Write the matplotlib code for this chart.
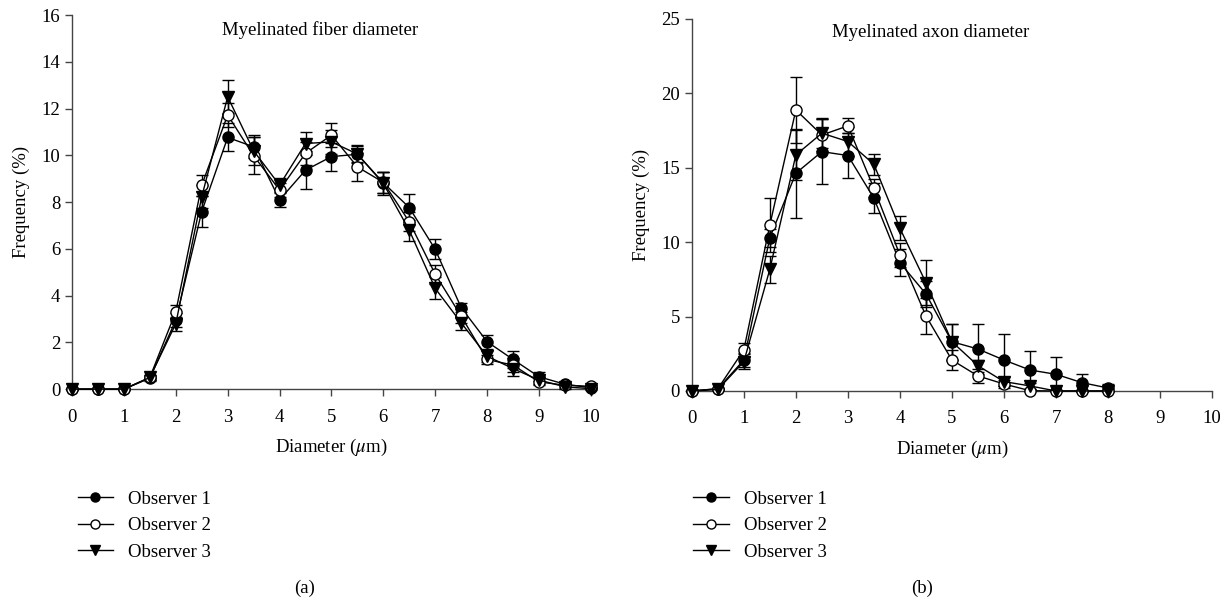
import matplotlib
matplotlib.use("Agg")
import matplotlib.pyplot as plt
from matplotlib.lines import Line2D

plt.rcParams["font.family"] = ["Liberation Serif", "DejaVu Serif"]
plt.rcParams["mathtext.fontset"] = "stix"

# panel (a): myelinated fiber diameter
fiber_x = [0, 0.5, 1, 1.5, 2, 2.5, 3, 3.5, 4, 4.5, 5, 5.5, 6, 6.5, 7, 7.5, 8, 8.5, 9, 9.5, 10]
fiber_obs1 = [0, 0, 0, 0.47, 2.95, 7.6, 10.77, 10.37, 8.1, 9.37, 9.95, 10.05, 8.83, 7.77, 5.98, 3.49, 2.03, 1.27, 0.53, 0.21, 0.06]
fiber_obs2 = [0, 0, 0, 0.5, 3.31, 8.73, 11.73, 9.99, 8.52, 10.09, 10.87, 9.51, 8.85, 7.16, 4.92, 3.12, 1.27, 1.03, 0.31, 0.17, 0.12]
fiber_obs3 = [0, 0, 0, 0.5, 2.8, 8.23, 12.51, 10.2, 8.73, 10.51, 10.58, 10.06, 8.8, 6.8, 4.31, 2.84, 1.41, 0.88, 0.39, 0.1, 0.02]
fiber_err1 = [0, 0, 0, 0.1, 0.3, 0.65, 0.6, 0.5, 0.3, 0.8, 0.6, 0.35, 0.45, 0.6, 0.43, 0.2, 0.3, 0.36, 0.2, 0.1, 0.05]
fiber_err2 = [0, 0, 0, 0.1, 0.3, 0.45, 0.5, 0.8, 0.3, 0.5, 0.5, 0.6, 0.45, 0.4, 0.4, 0.3, 0.2, 0.3, 0.15, 0.1, 0.05]
fiber_err3 = [0, 0, 0, 0.1, 0.3, 0.5, 0.7, 0.6, 0.3, 0.5, 0.5, 0.4, 0.5, 0.45, 0.47, 0.3, 0.25, 0.3, 0.15, 0.1, 0.05]

# panel (b): myelinated axon diameter
axon_x = [0, 0.5, 1, 1.5, 2, 2.5, 3, 3.5, 4, 4.5, 5, 5.5, 6, 6.5, 7, 7.5, 8]
axon_obs1 = [0, 0.15, 2.08, 10.3, 14.63, 16.08, 15.82, 12.95, 8.62, 6.52, 3.31, 2.82, 2.08, 1.41, 1.12, 0.56, 0.2]
axon_obs2 = [0, 0.15, 2.76, 11.16, 18.88, 17.2, 17.81, 13.62, 9.14, 5.04, 2.08, 1.01, 0.47, 0.02, 0, 0, 0]
axon_obs3 = [0, 0.1, 1.97, 8.18, 15.86, 17.32, 16.76, 15.23, 10.93, 7.28, 3.31, 1.7, 0.63, 0.34, 0, 0, 0]
axon_err1 = [0, 0, 0.5, 0.6, 3.0, 2.2, 1.5, 1.0, 0.9, 0.9, 1.2, 1.7, 1.75, 1.25, 1.15, 0.6, 0.3]
axon_err2 = [0, 0, 0.45, 1.8, 2.2, 1.1, 0.5, 0.6, 0.8, 1.2, 0.7, 0.5, 0.3, 0, 0, 0, 0]
axon_err3 = [0, 0, 0.5, 0.9, 1.7, 1.0, 1.0, 0.7, 0.8, 1.5, 1.2, 0.4, 0.3, 0.2, 0, 0, 0]

labels = ["Observer 1", "Observer 2", "Observer 3"]
styles = [
    dict(marker="o", mfc="black"),
    dict(marker="o", mfc="white"),
    dict(marker="v", mfc="black"),
]
axis_color = "#444444"
fs = 13.5


def draw_panel(ax, x, series, errs, title, title_x, ymax, ystep):
    for y, e, st in zip(series, errs, styles):
        ax.errorbar(x, y, yerr=e, color="black", lw=1.0, marker=st["marker"],
                    mfc=st["mfc"], mec="black", ms=8, capsize=4.5,
                    elinewidth=1.0, capthick=1.0, clip_on=False, zorder=3)
    ax.set_xlim(0, 10)
    ax.set_ylim(0, ymax)
    ax.set_xticks(range(0, 11))
    ax.set_yticks(range(0, ymax + 1, ystep))
    for s in ["top", "right"]:
        ax.spines[s].set_visible(False)
    for s in ["left", "bottom"]:
        ax.spines[s].set_color(axis_color)
        ax.spines[s].set_linewidth(1.0)
    ax.tick_params(axis="both", direction="out", length=5, width=1.0,
                   color=axis_color, labelsize=fs)
    ax.tick_params(axis="x", pad=9)
    ax.set_xlabel(r"Diameter ($\mu$m)", fontsize=fs, labelpad=8)
    ax.set_ylabel("Frequency (%)", fontsize=fs, labelpad=8)
    ax.text(title_x, 0.985, title, transform=ax.transAxes, ha="center",
            va="top", fontsize=fs)


fig = plt.figure(figsize=(12.31, 6.09), dpi=100)
ax1 = fig.add_axes([0.0585, 0.361, 0.4215, 0.614])
ax2 = fig.add_axes([0.562, 0.358, 0.4226, 0.611])

draw_panel(ax1, fiber_x, [fiber_obs1, fiber_obs2, fiber_obs3],
           [fiber_err1, fiber_err2, fiber_err3],
           "Myelinated fiber diameter", 0.478, 16, 2)
draw_panel(ax2, axon_x, [axon_obs1, axon_obs2, axon_obs3],
           [axon_err1, axon_err2, axon_err3],
           "Myelinated axon diameter", 0.46, 25, 5)

handles = [Line2D([0], [0], color="black", lw=1.0, marker=st["marker"],
                  mfc=st["mfc"], mec="black", ms=6.5) for st in styles]
for xpos in [0.063, 0.563]:
    fig.legend(handles, labels, loc="upper left", bbox_to_anchor=(xpos, 0.194),
               frameon=False, fontsize=fs, handlelength=1.9, handletextpad=0.8,
               labelspacing=0.5, borderaxespad=0, borderpad=0)

fig.text(305 / 1231, 1 - 588 / 609, "(a)", ha="center", va="center", fontsize=fs)
fig.text(922 / 1231, 1 - 588 / 609, "(b)", ha="center", va="center", fontsize=fs)

fig.savefig("out.png", dpi=100)
